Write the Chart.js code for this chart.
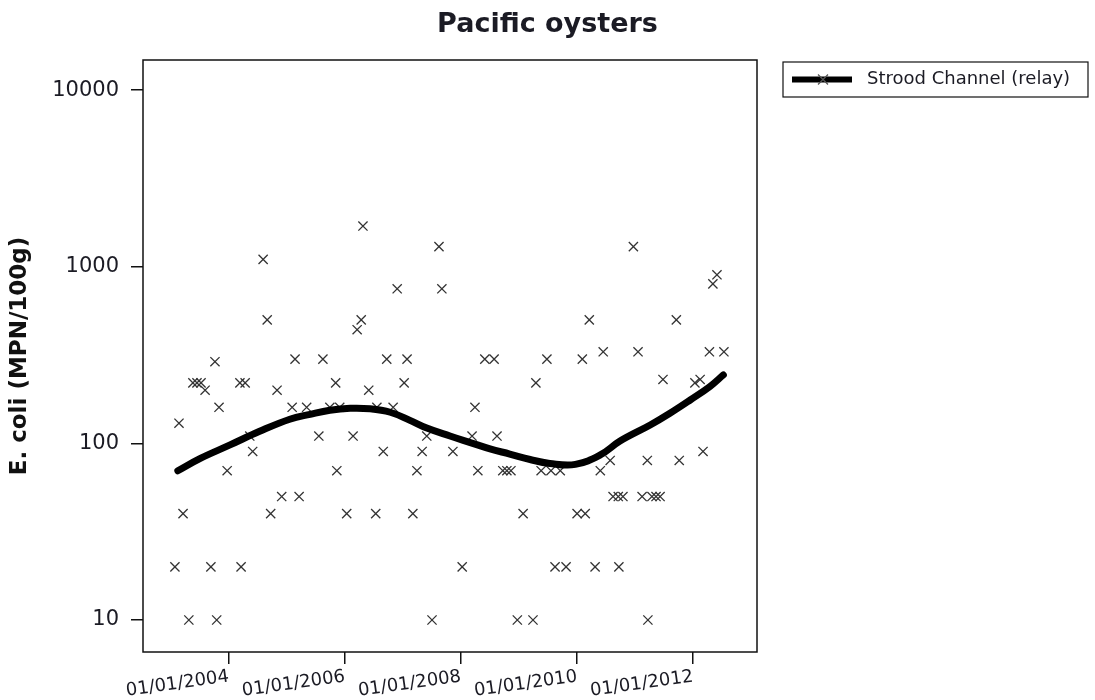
<!DOCTYPE html>
<html>
<head>
<meta charset="utf-8">
<script src="https://cdn.jsdelivr.net/npm/chart.js@4.4.1/dist/chart.umd.min.js"></script>
<style>
  html, body { margin: 0; padding: 0; background: #fff; }
  #wrap { width: 1095px; height: 700px; }
</style>
</head>
<body>
<div id="wrap"><canvas id="chart" width="1095" height="700"></canvas></div>
<script>
// --- chart data ---
const chartTitle = 'Pacific oysters';
const yAxisTitle = 'E. coli (MPN/100g)';
const seriesName = 'Strood Channel (relay)';

// sample dates (decimal years) and E. coli results
const sampleYears = [
  2003.07, 2003.14, 2003.21, 2003.31, 2003.38, 2003.45, 2003.52, 2003.59, 2003.69, 2003.76,
  2003.79, 2003.83, 2003.97, 2004.19, 2004.21, 2004.28, 2004.36, 2004.41, 2004.59, 2004.66,
  2004.72, 2004.83, 2004.91, 2005.09, 2005.14, 2005.21, 2005.34, 2005.55, 2005.62, 2005.74,
  2005.84, 2005.86, 2005.91, 2006.03, 2006.14, 2006.21, 2006.28, 2006.31, 2006.41, 2006.53,
  2006.55, 2006.66, 2006.72, 2006.83, 2006.90, 2007.02, 2007.07, 2007.17, 2007.24, 2007.33,
  2007.41, 2007.50, 2007.62, 2007.67, 2007.86, 2008.02, 2008.19, 2008.24, 2008.29, 2008.41,
  2008.57, 2008.62, 2008.72, 2008.79, 2008.86, 2008.97, 2009.07, 2009.24, 2009.29, 2009.38,
  2009.48, 2009.55, 2009.62, 2009.71, 2009.81, 2010.00, 2010.09, 2010.14, 2010.21, 2010.31,
  2010.40, 2010.45, 2010.57, 2010.62, 2010.71, 2010.72, 2010.79, 2010.97, 2011.05, 2011.12,
  2011.21, 2011.22, 2011.29, 2011.36, 2011.43, 2011.48, 2011.71, 2011.76, 2012.03, 2012.12,
  2012.17, 2012.28, 2012.34, 2012.41, 2012.53
];
const sampleValues = [
  20, 130, 40, 10, 220, 220, 220, 200, 20, 290,
  10, 160, 70, 220, 20, 220, 110, 90, 1100, 500,
  40, 200, 50, 160, 300, 50, 160, 110, 300, 160,
  220, 70, 160, 40, 110, 440, 500, 1700, 200, 40,
  160, 90, 300, 160, 750, 220, 300, 40, 70, 90,
  110, 10, 1300, 750, 90, 20, 110, 160, 70, 300,
  300, 110, 70, 70, 70, 10, 40, 10, 220, 70,
  300, 70, 20, 70, 20, 40, 300, 40, 500, 20,
  70, 330, 80, 50, 50, 20, 50, 1300, 330, 50,
  80, 10, 50, 50, 50, 230, 500, 80, 220, 230,
  90, 330, 800, 900, 330
];

// smoothed trend line
const trendYears = [
  2003.12, 2003.50, 2004.02, 2004.53, 2005.05, 2005.40, 2005.74, 2006.09, 2006.43, 2006.78,
  2007.12, 2007.41, 2007.81, 2008.16, 2008.50, 2008.84, 2009.19, 2009.53, 2009.97, 2010.40,
  2010.74, 2011.26, 2011.60, 2011.95, 2012.29, 2012.52
];
const trendValues = [
  70, 82, 98, 117, 137, 146, 154, 158, 157, 150,
  135, 122, 110, 101, 93, 87, 81, 77, 76, 86,
  103, 127, 148, 176, 210, 244
];

const yTicks = [10, 100, 1000, 10000];
const xTickYears = [2004, 2006, 2008, 2010, 2012];
const xTickLabels = ['01/01/2004', '01/01/2006', '01/01/2008', '01/01/2010', '01/01/2012'];

const textColor = '#1b1b24';
const fontFamily = '"DejaVu Sans", Verdana, sans-serif';

// --- title, plot frame and legend box (drawn on canvas) ---
const frameAndLegend = {
  id: 'frameAndLegend',
  afterDraw(chart) {
    const { ctx, chartArea: a } = chart;
    ctx.save();
    // title, centred on the whole picture
    ctx.fillStyle = textColor;
    ctx.font = 'bold 27px ' + fontFamily;
    ctx.textAlign = 'center';
    ctx.textBaseline = 'middle';
    ctx.fillText(chartTitle, chart.width / 2, 25);

    ctx.strokeStyle = '#111';
    ctx.lineWidth = 1.5;
    ctx.strokeRect(a.left, a.top, a.right - a.left, a.bottom - a.top);

    // legend
    const lx = 783, ly = 62, lw = 305, lh = 35;
    ctx.lineWidth = 1.2;
    ctx.strokeRect(lx, ly, lw, lh);
    const midY = ly + lh / 2;
    ctx.strokeStyle = '#000';
    ctx.lineWidth = 6;
    ctx.beginPath();
    ctx.moveTo(792, midY);
    ctx.lineTo(852, midY);
    ctx.stroke();
    ctx.strokeStyle = '#555';
    ctx.lineWidth = 1.2;
    ctx.beginPath();
    ctx.moveTo(818, midY - 5); ctx.lineTo(828, midY + 5);
    ctx.moveTo(828, midY - 5); ctx.lineTo(818, midY + 5);
    ctx.stroke();
    ctx.fillStyle = textColor;
    ctx.font = '18px ' + fontFamily;
    ctx.textAlign = 'left';
    ctx.fillText(chart.data.datasets[1].label, 867, midY);
    ctx.restore();
  }
};

const ctx = document.getElementById('chart').getContext('2d');
new Chart(ctx, {
  type: 'scatter',
  data: {
    datasets: [
      {
        label: seriesName + ' trend',
        data: trendYears.map((x, i) => ({ x, y: trendValues[i] })),
        showLine: true,
        borderColor: '#000',
        borderWidth: 7,
        borderCapStyle: 'round',
        tension: 0.4,
        pointRadius: 0,
        order: 0
      },
      {
        label: seriesName,
        data: sampleYears.map((x, i) => ({ x, y: sampleValues[i] })),
        showLine: false,
        pointStyle: 'crossRot',
        pointRadius: 6.5,
        pointBorderWidth: 1.3,
        pointBorderColor: '#333',
        borderColor: '#333',
        order: 1
      }
    ]
  },
  options: {
    responsive: false,
    animation: false,
    layout: { padding: { left: 0, right: 338, top: 60, bottom: 0 } },
    plugins: {
      legend: { display: false },
      tooltip: { enabled: false },
      title: { display: false }
    },
    scales: {
      x: {
        type: 'linear',
        min: 2002.52,
        max: 2013.10,
        afterBuildTicks: (s) => { s.ticks = xTickYears.map(v => ({ value: v })); },
        afterFit: (s) => { s.height = 48; },
        border: { display: false },
        grid: { drawOnChartArea: false, drawTicks: true, tickLength: 12, color: '#111', lineWidth: 1.5 },
        ticks: {
          color: textColor,
          font: { family: fontFamily, size: 18 },
          minRotation: 8,
          maxRotation: 8,
          padding: 2,
          autoSkip: false,
          callback: (v) => xTickLabels[xTickYears.indexOf(v)]
        }
      },
      y: {
        type: 'logarithmic',
        min: 6.59,
        max: 14800,
        afterBuildTicks: (s) => { s.ticks = yTicks.map(v => ({ value: v })); },
        afterFit: (s) => { s.width = 143; },
        border: { display: false },
        grid: { drawOnChartArea: false, drawTicks: true, tickLength: 12, color: '#111', lineWidth: 1.5 },
        title: {
          display: true,
          text: yAxisTitle,
          color: '#111',
          font: { family: fontFamily, size: 23, weight: 'bold' },
          padding: { top: 6, bottom: 0 }
        },
        ticks: {
          color: textColor,
          font: { family: fontFamily, size: 21 },
          padding: 12,
          autoSkip: false,
          callback: (v) => String(v)
        }
      }
    }
  },
  plugins: [frameAndLegend]
});
</script>
</body>
</html>
